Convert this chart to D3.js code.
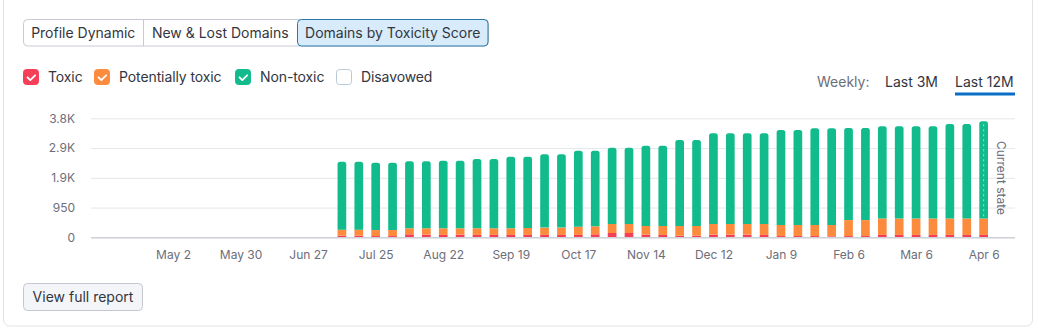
<!DOCTYPE html>
<html>
<head>
<meta charset="utf-8">
<script src="https://cdn.jsdelivr.net/npm/d3@7"></script>
<style>
  html, body { margin: 0; padding: 0; background: #ffffff; }
  svg { display: block; font-family: Inter, "Open Sans", sans-serif; }
</style>
</head>
<body>
<svg id="chart" width="1038" height="329"></svg>
<script>
// ---------- data ----------
const tabs = ["Profile Dynamic", "New & Lost Domains", "Domains by Toxicity Score"];
const legendItems = ["Toxic", "Potentially toxic", "Non-toxic", "Disavowed"];
const firstWeek = "2022-07-11";           // first weekly bar
const weekCount = 39;
const toxic = [51,51,40,40,96,85,75,85,75,75, 75,75,75,75,75,96,137,137,85,75, 51,51,85,85,85,75,40,40,40,30, 40,40,75,75,75,75,75,75,75];
const potentiallyToxic = [192,192,192,192,191,202,212,202,212,212, 212,223,234,234,263,255,288,288,276,286, 310,310,340,340,340,350,353,353,353,363, 510,510,525,525,525,525,525,525,525];
const nonToxic = [2171,2171,2150,2150,2140,2140,2159,2159,2213,2213, 2287,2276,2341,2341,2427,2414,2436,2436,2564,2564, 2746,2746,2896,2896,2896,2896,3033,3033,3087,3087, 2940,2940,2944,2944,2944,2944,3018,3018,3104];
const yTicks = [0, 950, 1900, 2850, 3800];
const yTickLabels = ["0", "950", "1.9K", "2.9K", "3.8K"];
const xTickDates = ["2022-05-02","2022-05-30","2022-06-27","2022-07-25","2022-08-22","2022-09-19","2022-10-17","2022-11-14","2022-12-12","2023-01-09","2023-02-06","2023-03-06","2023-04-03"];
const xTickLabels = ["May 2","May 30","Jun 27","Jul 25","Aug 22","Sep 19","Oct 17","Nov 14","Dec 12","Jan 9","Feb 6","Mar 6","Apr 6"];
const xDomain = ["2022-03-29", "2023-04-16"];

// ---------- setup ----------
const parse = d3.utcParse("%Y-%m-%d");
const weeks = d3.range(weekCount).map(i => d3.utcDay.offset(parse(firstWeek), i * 7));
const colors = { toxic: "#f53e57", pot: "#fd8b3e", non: "#12bb8c" };
const svg = d3.select("#chart");
const textColor = "#333640";
const grey = "#6c6e79";

// card
svg.append("rect").attr("x", 3.5).attr("y", -10).attr("width", 1029).attr("height", 336)
  .attr("rx", 6).attr("fill", "#fff").attr("stroke", "#e2e3e8");

// tabs
const tabX = [23, 143.5, 297, 488.5];
const tg = svg.append("g");
tg.append("rect").attr("x", 23.5).attr("y", 19.5).attr("width", 465).attr("height", 26.5)
  .attr("rx", 4).attr("fill", "#fff").attr("stroke", "#c7cad1");
tabs.forEach((t, i) => {
  if (i === 2) {
    tg.append("rect")
      .attr("x", tabX[i] + 0.5).attr("y", 19.5)
      .attr("width", tabX[i + 1] - tabX[i] - 1).attr("height", 26.5)
      .attr("rx", 4).attr("fill", "#d7ebfa").attr("stroke", "#2a78a8");
  }
});
tg.append("line").attr("x1", 143.5).attr("x2", 143.5).attr("y1", 20).attr("y2", 46).attr("stroke", "#c7cad1");
tabs.forEach((t, i) => {
  tg.append("text").attr("x", (tabX[i] + tabX[i + 1]) / 2).attr("y", 38)
    .attr("text-anchor", "middle").attr("font-size", 14).attr("fill", textColor).text(t);
});

// legend
const legX = [23, 94, 235, 336];
const legColors = [colors.toxic, colors.pot, colors.non, null];
const lg = svg.append("g");
legendItems.forEach((name, i) => {
  const c = legColors[i];
  lg.append("rect").attr("x", legX[i] + 0.5).attr("y", 69.5).attr("width", 15).attr("height", 15).attr("rx", 3)
    .attr("fill", c || "#fff").attr("stroke", c || "#b9c9d6");
  if (c) {
    lg.append("path").attr("d", `M${legX[i] + 4.5},${77.3} l2.8,2.8 l4.8,-4.8`)
      .attr("fill", "none").attr("stroke", "#fff").attr("stroke-width", 1.8)
      .attr("stroke-linecap", "round").attr("stroke-linejoin", "round");
  }
  lg.append("text").attr("x", legX[i] + 25).attr("y", 82).attr("font-size", 14)
    .attr("letter-spacing", -0.1).attr("fill", textColor).text(name);
});

// period selector
svg.append("text").attr("x", 817).attr("y", 87).attr("font-size", 14).attr("fill", grey).text("Weekly:");
svg.append("text").attr("x", 885).attr("y", 87).attr("font-size", 14).attr("fill", textColor).text("Last 3M");
svg.append("text").attr("x", 955).attr("y", 87).attr("font-size", 14).attr("fill", textColor).text("Last 12M");
svg.append("rect").attr("x", 955).attr("y", 92.5).attr("width", 60).attr("height", 3).attr("fill", "#0a6ec7");

// scales
const x = d3.scaleUtc().domain(xDomain.map(parse)).range([91, 1015]);
const y = d3.scaleLinear().domain([0, 3800]).range([237.3, 118.3]);
const barW = (x(weeks[1]) - x(weeks[0])) * 0.515;

// gridlines + y axis
const yAxis = d3.axisLeft(y).tickValues(yTicks).tickFormat((d, i) => yTickLabels[i])
  .tickSize(-(1015 - 91)).tickPadding(16);
const ya = svg.append("g").attr("transform", "translate(91,0)").call(yAxis);
ya.select(".domain").remove();
ya.selectAll(".tick line").attr("stroke", "#e6e7eb");
ya.selectAll(".tick text").attr("font-size", 12).attr("fill", grey).attr("font-family", "Inter, sans-serif");

// bars
const stackData = weeks.map((w, i) => ({ date: w, toxic: toxic[i], pot: potentiallyToxic[i], non: nonToxic[i] }));
const stack = d3.stack().keys(["toxic", "pot", "non"])(stackData);
function roundTop(x0, y0, w, h, r) {
  r = Math.min(r, h, w / 2);
  return `M${x0},${y0 + h} V${y0 + r} Q${x0},${y0} ${x0 + r},${y0} H${x0 + w - r} Q${x0 + w},${y0} ${x0 + w},${y0 + r} V${y0 + h} Z`;
}
const bg = svg.append("g");
stack.forEach(layer => {
  const key = layer.key;
  bg.append("g").selectAll("path").data(layer).join("path")
    .attr("fill", colors[key])
    .attr("d", d => {
      const x0 = x(d.data.date) - barW / 2;
      const y0 = y(d[1]), h = y(d[0]) - y(d[1]);
      return key === "non" ? roundTop(x0, y0, barW, h, 2.5) : `M${x0},${y0} h${barW} v${h} h${-barW} Z`;
    });
});

// baseline
svg.append("line").attr("x1", 91).attr("x2", 1015).attr("y1", y(0) + 0.5).attr("y2", y(0) + 0.5)
  .attr("stroke", "#cfd1d8").attr("stroke-width", 1.5);

// current state marker
const last = stackData[stackData.length - 1];
const lx = x(last.date);
svg.append("line").attr("x1", lx).attr("x2", lx)
  .attr("y1", y(last.toxic + last.pot + last.non) + 3).attr("y2", y(last.toxic + last.pot))
  .attr("stroke", "rgba(255,255,255,0.55)").attr("stroke-width", 1).attr("stroke-dasharray", "2,3");
svg.append("text").attr("transform", `translate(${lx + 13},178) rotate(90)`)
  .attr("text-anchor", "middle").attr("font-size", 12).attr("fill", grey).text("Current state");

// x axis
const xAxis = d3.axisBottom(x).tickValues(xTickDates.map(parse)).tickFormat((d, i) => xTickLabels[i])
  .tickSize(0).tickPadding(13);
const xa = svg.append("g").attr("transform", `translate(0,${y(0)})`).call(xAxis);
xa.select(".domain").remove();
xa.selectAll(".tick text").attr("font-size", 12).attr("fill", grey).attr("font-family", "Inter, sans-serif");

// button
svg.append("rect").attr("x", 23.5).attr("y", 283.5).attr("width", 119).attr("height", 27).attr("rx", 4)
  .attr("fill", "#f4f5f9").attr("stroke", "#c4c7cf");
svg.append("text").attr("x", 83).attr("y", 302).attr("text-anchor", "middle").attr("font-size", 14)
  .attr("fill", textColor).text("View full report");
</script>
</body>
</html>
